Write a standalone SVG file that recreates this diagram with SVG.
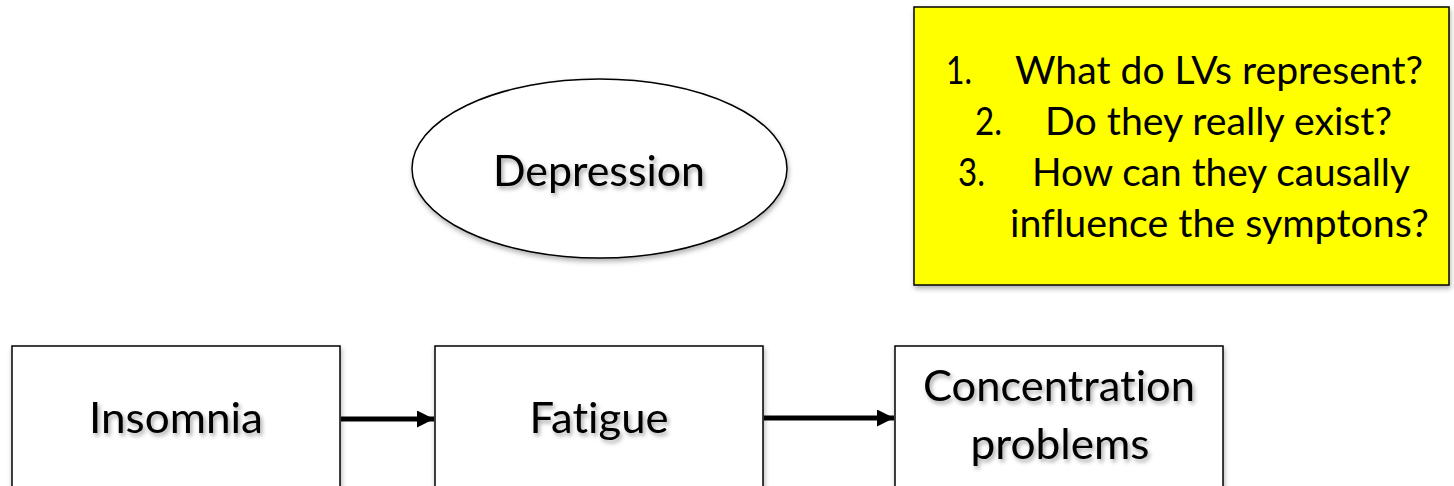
<svg xmlns="http://www.w3.org/2000/svg" width="1454" height="486" viewBox="0 0 1454 486">
<style>
.lbl{font-family:Lato,"Liberation Sans",sans-serif;font-size:42.5px;fill:#000;text-anchor:middle;font-variant-ligatures:none}
.q{font-family:Lato,"Liberation Sans",sans-serif;font-size:38.5px;fill:#000;font-variant-ligatures:none}
.box{fill:#fff;stroke:#000;stroke-width:1.5}
.conn{stroke:#000;stroke-width:5;fill:none}
</style>
<defs>
<filter id="tsh" x="-10%" y="-20%" width="130%" height="160%">
<feDropShadow dx="2" dy="3" stdDeviation="2" flood-color="#000" flood-opacity="0.35"/>
</filter>
<filter id="bsh" x="-5%" y="-5%" width="115%" height="120%">
<feDropShadow dx="1" dy="3" stdDeviation="2.5" flood-color="#000" flood-opacity="0.3"/>
</filter>
<marker id="ah" markerWidth="18" markerHeight="17" refX="17" refY="8.5" orient="auto" markerUnits="userSpaceOnUse">
<path d="M0,0 L17,8.5 L0,17 Z" fill="#000"/>
</marker>
</defs>
<rect width="1454" height="486" fill="#fff"/>

<g id="questions">
<rect x="914" y="7" width="535" height="278" fill="#ffff00" stroke="#000" stroke-width="1.5" filter="url(#bsh)"/>
<text class="q" x="946" y="84" textLength="26" lengthAdjust="spacingAndGlyphs">1.</text>
<text class="q" x="1015" y="84" textLength="408" lengthAdjust="spacingAndGlyphs">What do LVs represent?</text>
<text class="q" x="975" y="135" textLength="27" lengthAdjust="spacingAndGlyphs">2.</text>
<text class="q" x="1045" y="135" textLength="347" lengthAdjust="spacingAndGlyphs">Do they really exist?</text>
<text class="q" x="958" y="186" textLength="27" lengthAdjust="spacingAndGlyphs">3.</text>
<text class="q" x="1032" y="186" textLength="378" lengthAdjust="spacingAndGlyphs">How can they causally</text>
<text class="q" x="1010" y="237" textLength="419" lengthAdjust="spacingAndGlyphs">influence the symptons?</text>
</g>

<g id="depression">
<ellipse cx="599.5" cy="168.5" rx="187.5" ry="89.5" fill="#fff" stroke="#000" stroke-width="1.5" filter="url(#bsh)"/>
<text class="lbl" x="599" y="186" textLength="212" lengthAdjust="spacingAndGlyphs" filter="url(#tsh)">Depression</text>
</g>

<g id="insomnia">
<rect class="box" x="12" y="346" width="328" height="150" filter="url(#bsh)"/>
<text class="lbl" x="176" y="433" textLength="174" lengthAdjust="spacingAndGlyphs" filter="url(#tsh)">Insomnia</text>
</g>

<g id="fatigue">
<rect class="box" x="435" y="346" width="328" height="150" filter="url(#bsh)"/>
<text class="lbl" x="599" y="433" textLength="139" lengthAdjust="spacingAndGlyphs" filter="url(#tsh)">Fatigue</text>
</g>

<g id="concentration">
<rect class="box" x="895" y="346" width="328" height="150" filter="url(#bsh)"/>
<text class="lbl" x="1059" y="401" textLength="272" lengthAdjust="spacingAndGlyphs" filter="url(#tsh)">Concentration</text>
<text class="lbl" x="1060" y="459" textLength="179" lengthAdjust="spacingAndGlyphs" filter="url(#tsh)">problems</text>
</g>

<g id="connectors">
<line class="conn" x1="341" y1="419" x2="434" y2="419" marker-end="url(#ah)"/>
<line class="conn" x1="764" y1="418" x2="894" y2="418" marker-end="url(#ah)"/>
</g>
</svg>
